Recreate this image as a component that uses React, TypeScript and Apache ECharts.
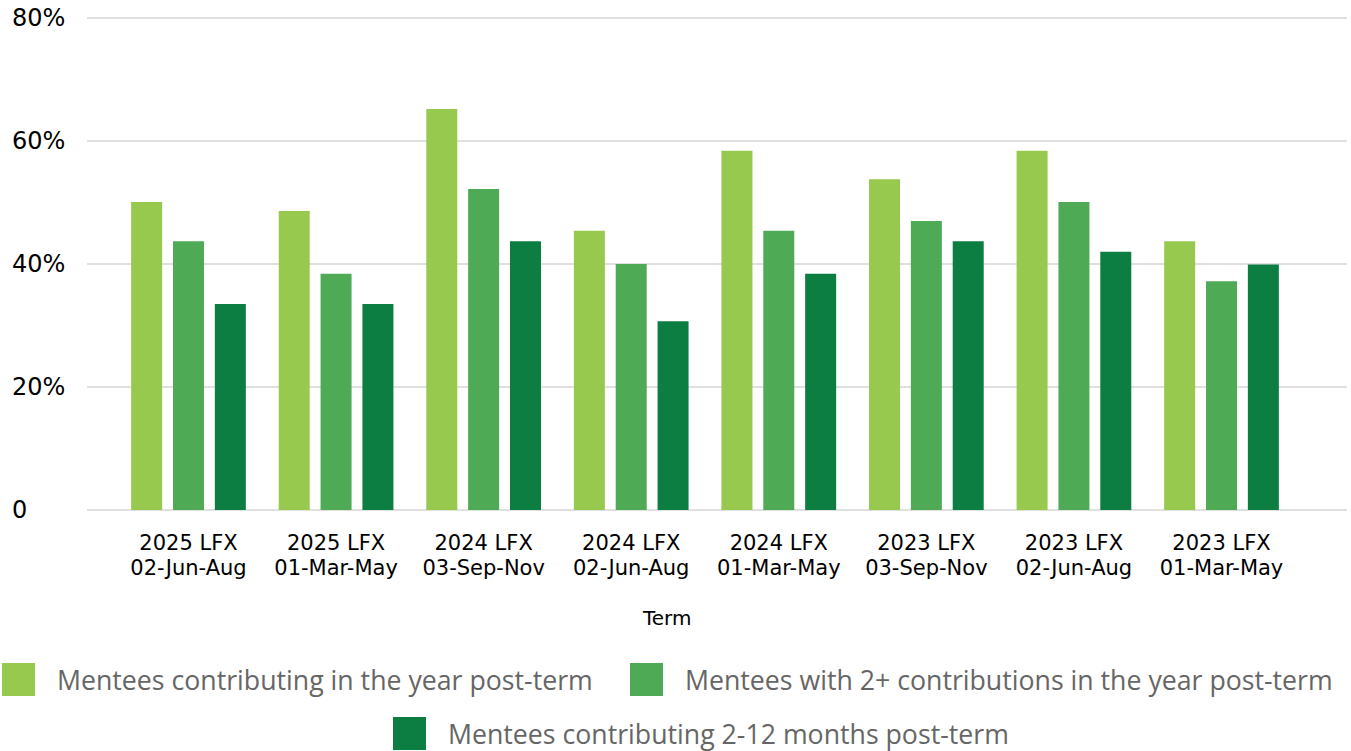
import React, { useEffect, useRef } from "react";
import * as echarts from "echarts";

const categories = [
  "2025 LFX\n02-Jun-Aug",
  "2025 LFX\n01-Mar-May",
  "2024 LFX\n03-Sep-Nov",
  "2024 LFX\n02-Jun-Aug",
  "2024 LFX\n01-Mar-May",
  "2023 LFX\n03-Sep-Nov",
  "2023 LFX\n02-Jun-Aug",
  "2023 LFX\n01-Mar-May",
];

const seriesNames = [
  "Mentees contributing in the year post-term",
  "Mentees with 2+ contributions in the year post-term",
  "Mentees contributing 2-12 months post-term",
];

const contributingYear = [50.1, 48.6, 65.2, 45.4, 58.4, 53.8, 58.4, 43.7];
const twoPlusYear = [43.7, 38.4, 52.2, 40.0, 45.4, 47.0, 50.1, 37.2];
const contributing2to12 = [33.5, 33.5, 43.7, 30.7, 38.4, 43.7, 42.0, 39.9];

const yTicks = [0, 20, 40, 60, 80];

const colors = ["#97c94f", "#4faa56", "#0c7e42"];

export default function App() {
  const ref = useRef<HTMLDivElement>(null);

  useEffect(() => {
    if (!ref.current) return;
    const chart = echarts.init(ref.current, null, { renderer: "svg" });
    const axisFont = "'DejaVu Sans', sans-serif";
    const legendFont = "'Open Sans', sans-serif";
    const values = [contributingYear, twoPlusYear, contributing2to12];

    const legendPos = [
      { left: 2, top: 663 },
      { left: 630, top: 663 },
      { left: 393, top: 717 },
    ];

    chart.setOption({
      animation: false,
      backgroundColor: "#ffffff",
      grid: [
        { left: 114.7, right: 55.7, top: 18, bottom: 241 },
        { left: 87, right: 4, top: 18, bottom: 241 },
      ],
      xAxis: [
        {
          type: "category",
          gridIndex: 0,
          data: categories,
          axisLine: { show: false },
          axisTick: { show: false },
          axisLabel: {
            interval: 0,
            margin: 20,
            fontFamily: axisFont,
            fontSize: 21,
            lineHeight: 25,
            color: "#000000",
          },
        },
        { type: "value", gridIndex: 1, min: 0, max: 1, show: false },
      ],
      yAxis: [
        { type: "value", gridIndex: 0, min: 0, max: 80, show: false },
        {
          type: "value",
          gridIndex: 1,
          min: yTicks[0],
          max: yTicks[yTicks.length - 1],
          interval: 20,
          axisLine: { show: false },
          axisTick: { show: false },
          splitLine: { show: true, lineStyle: { color: "#d6d6d6", width: 1.5 } },
          axisLabel: {
            margin: 75,
            align: "left",
            fontFamily: axisFont,
            fontSize: 24,
            color: "#000000",
            formatter: (v: number) => (v === 0 ? "0" : v + "%"),
          },
        },
      ],
      legend: seriesNames.map((n, i) => ({
        data: [n],
        left: legendPos[i].left,
        top: legendPos[i].top,
        padding: 0,
        itemWidth: 33,
        itemHeight: 33,
        icon: "rect",
        selectedMode: false,
        textStyle: {
          fontFamily: legendFont,
          fontSize: 26.7,
          lineHeight: 26,
          color: "#666666",
          padding: [0, 0, 0, 17],
        },
      })),
      graphic: [
        {
          type: "text",
          left: 643,
          top: 608,
          style: {
            text: "Term",
            fontFamily: axisFont,
            fontSize: 20,
            fill: "#000000",
          },
        },
      ],
      series: seriesNames.map((n, i) => ({
        name: n,
        type: "bar",
        xAxisIndex: 0,
        yAxisIndex: 0,
        data: values[i],
        barWidth: 31,
        barGap: "35%",
        itemStyle: { color: colors[i] },
      })),
    });

    return () => chart.dispose();
  }, []);

  return (
    <div
      ref={ref}
      style={{ position: "absolute", left: 0, top: 0, width: 1351, height: 751 }}
    />
  );
}
